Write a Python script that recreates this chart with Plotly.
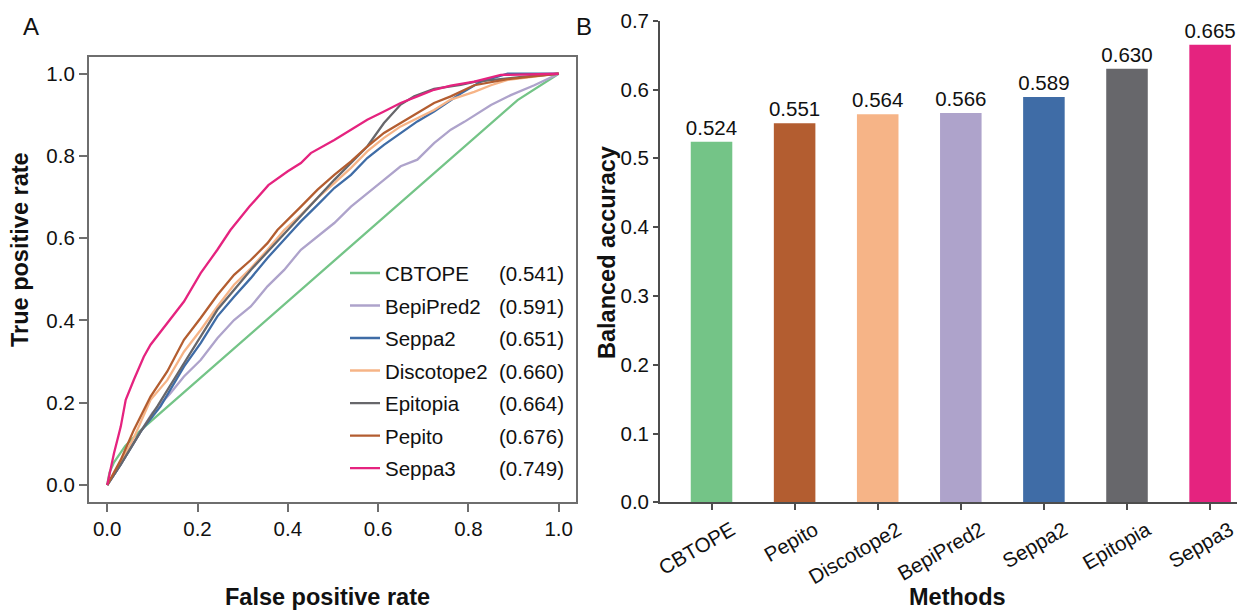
import plotly.graph_objects as go

# ---------------- data ----------------
methods_roc = ["CBTOPE", "BepiPred2", "Seppa2", "Discotope2", "Epitopia", "Pepito", "Seppa3"]
auc_values = [0.541, 0.591, 0.651, 0.660, 0.664, 0.676, 0.749]
roc_colors = ["#74c487", "#aea3cb", "#3f6ca6", "#f6b487", "#67676b", "#b35d30", "#e5237f"]

cbtope_fpr = [0, 0.005, 0.015, 0.04, 0.075, 0.909, 1.0]
cbtope_tpr = [0, 0.03, 0.055, 0.095, 0.134, 0.936, 1.0]

bepipred2_fpr = [0, 0.03, 0.074, 0.10, 0.14, 0.17, 0.207, 0.244, 0.281, 0.318, 0.355, 0.392, 0.429, 0.451,
                 0.466, 0.503, 0.540, 0.576, 0.613, 0.650, 0.687, 0.724, 0.761, 0.791, 0.85, 0.894, 0.946, 1.0]
bepipred2_tpr = [0, 0.05, 0.13, 0.175, 0.223, 0.264, 0.304, 0.357, 0.401, 0.434, 0.483, 0.523, 0.572, 0.592,
                 0.604, 0.637, 0.677, 0.710, 0.742, 0.775, 0.791, 0.831, 0.864, 0.883, 0.924, 0.948, 0.972, 1.0]

seppa2_fpr = [0, 0.03, 0.074, 0.118, 0.17, 0.207, 0.244, 0.281, 0.318, 0.355, 0.414, 0.429, 0.466, 0.503,
              0.540, 0.576, 0.613, 0.650, 0.687, 0.724, 0.761, 0.783, 0.828, 0.872, 0.887, 1.0]
seppa2_tpr = [0, 0.05, 0.13, 0.191, 0.288, 0.345, 0.410, 0.458, 0.503, 0.552, 0.623, 0.641, 0.681, 0.722,
              0.754, 0.795, 0.827, 0.856, 0.884, 0.908, 0.937, 0.952, 0.981, 0.995, 1.0, 1.0]

discotope2_fpr = [0, 0.03, 0.059, 0.096, 0.133, 0.17, 0.207, 0.244, 0.281, 0.318, 0.355, 0.392, 0.429, 0.466,
                  0.503, 0.540, 0.576, 0.613, 0.650, 0.687, 0.724, 0.761, 0.813, 0.850, 0.887, 0.946, 1.0]
discotope2_tpr = [0, 0.055, 0.115, 0.207, 0.255, 0.324, 0.377, 0.434, 0.487, 0.527, 0.572, 0.620, 0.657, 0.698,
                  0.734, 0.771, 0.811, 0.844, 0.872, 0.892, 0.912, 0.937, 0.956, 0.972, 0.985, 0.993, 1.0]

epitopia_fpr = [0, 0.03, 0.074, 0.111, 0.17, 0.244, 0.318, 0.399, 0.429, 0.466, 0.503, 0.540, 0.576, 0.613,
                0.650, 0.680, 0.724, 0.783, 0.813, 0.924, 1.0]
epitopia_tpr = [0, 0.05, 0.13, 0.191, 0.296, 0.426, 0.523, 0.620, 0.655, 0.700, 0.742, 0.783, 0.823, 0.880,
                0.925, 0.945, 0.963, 0.973, 0.980, 0.993, 1.0]

pepito_fpr = [0, 0.03, 0.059, 0.089, 0.096, 0.133, 0.17, 0.207, 0.244, 0.281, 0.318, 0.355, 0.377, 0.429,
              0.466, 0.503, 0.540, 0.576, 0.613, 0.650, 0.687, 0.724, 0.761, 0.813, 0.887, 1.0]
pepito_tpr = [0, 0.061, 0.134, 0.20, 0.215, 0.276, 0.353, 0.406, 0.462, 0.511, 0.547, 0.588, 0.620, 0.677,
              0.718, 0.754, 0.787, 0.823, 0.856, 0.880, 0.904, 0.929, 0.945, 0.972, 0.987, 1.0]

seppa3_fpr = [0, 0.015, 0.03, 0.041, 0.059, 0.081, 0.096, 0.133, 0.17, 0.207, 0.244, 0.273, 0.315, 0.357,
              0.40, 0.429, 0.451, 0.503, 0.547, 0.576, 0.613, 0.650, 0.687, 0.724, 0.761, 0.813, 0.872, 1.0]
seppa3_tpr = [0, 0.077, 0.142, 0.207, 0.256, 0.312, 0.341, 0.393, 0.446, 0.515, 0.572, 0.620, 0.677, 0.729,
              0.763, 0.783, 0.807, 0.839, 0.868, 0.888, 0.908, 0.929, 0.945, 0.961, 0.971, 0.981, 0.997, 1.0]

roc_fpr = [cbtope_fpr, bepipred2_fpr, seppa2_fpr, discotope2_fpr, epitopia_fpr, pepito_fpr, seppa3_fpr]
roc_tpr = [cbtope_tpr, bepipred2_tpr, seppa2_tpr, discotope2_tpr, epitopia_tpr, pepito_tpr, seppa3_tpr]

bar_methods = ["CBTOPE", "Pepito", "Discotope2", "BepiPred2", "Seppa2", "Epitopia", "Seppa3"]
bar_values = [0.524, 0.551, 0.564, 0.566, 0.589, 0.630, 0.665]
bar_colors = ["#74c487", "#b35d30", "#f6b487", "#aea3cb", "#3f6ca6", "#67676b", "#e5237f"]

roc_ticks = [0.0, 0.2, 0.4, 0.6, 0.8, 1.0]
bar_ticks = [0.0, 0.1, 0.2, 0.3, 0.4, 0.5, 0.6, 0.7]

# ---------------- layout helpers (page body has an 8px margin) ----------------
OFF = 8
W, H = 1245 - OFF, 613 - OFF


def px(xp):
    return (xp - OFF) / W


def py(yp):
    return 1 - (yp - OFF) / H


FONT = "Liberation Sans, Arial, sans-serif"
LEG_FS = 20.5
LEG_TOP = 253.2
ITEM_H = LEG_FS * 1.3 + 3
GAP = 2.85

fig = go.Figure()

for i, name in enumerate(methods_roc):
    fig.add_trace(go.Scatter(
        x=roc_fpr[i], y=roc_tpr[i], mode="lines", name=name,
        line=dict(color=roc_colors[i], width=2.3),
        legendgroup=name, xaxis="x", yaxis="y", hoverinfo="skip"))

fig.add_trace(go.Bar(
    x=bar_methods, y=bar_values, marker=dict(color=bar_colors, line=dict(width=0)),
    width=0.5, text=[f"{v:.3f}" for v in bar_values], textposition="outside",
    constraintext="none",
    textfont=dict(size=20.5, color="#111", family=FONT), cliponaxis=False,
    showlegend=False, xaxis="x2", yaxis="y2"))

annotations = []
for i, v in enumerate(auc_values):
    ypx = LEG_TOP + 5 + ITEM_H / 2 + i * (ITEM_H + GAP) + 0.7
    annotations.append(dict(text=f"({v:.3f})", x=px(497), y=py(ypx), xref="paper", yref="paper",
                            xanchor="left", yanchor="middle", showarrow=False,
                            font=dict(size=LEG_FS, color="#111", family=FONT)))


def title_ann(text, xp, yp, angle=0, size=23.5, bold=True):
    return dict(text=f"<b>{text}</b>" if bold else text, x=px(xp), y=py(yp),
                xref="paper", yref="paper", xanchor="center", yanchor="middle",
                showarrow=False, textangle=angle,
                font=dict(size=size, color="#111", family=FONT))


annotations += [
    title_ann("True positive rate", 20, 250, -90),
    title_ann("False positive rate", 327, 597),
    title_ann("Balanced accuracy", 607, 253, -90),
    title_ann("Methods", 957, 597),
    title_ann("A", 30.5, 26.5, size=24, bold=False),
    title_ann("B", 583.5, 26.5, size=24, bold=False),
]

box_color = "#6e6e6e"
ax_color = "#4d4d4d"
tickfont = dict(size=20.5, color="#111", family=FONT)

fig.update_layout(
    width=W, height=H,
    margin=dict(l=0, r=0, t=0, b=0, autoexpand=False),
    paper_bgcolor="white", plot_bgcolor="white",
    font=dict(family=FONT, color="#111"),
    showlegend=True,
    legend=dict(x=px(345), y=py(LEG_TOP), xanchor="left", yanchor="top",
                bgcolor="rgba(0,0,0,0)", borderwidth=0, tracegroupgap=GAP,
                font=dict(size=LEG_FS, color="#111", family=FONT)),
    xaxis=dict(domain=[px(88.8), px(576)], range=[-0.0408, 1.0384], anchor="y", automargin=False,
               tickvals=roc_ticks, ticktext=[f"{t:.1f}" for t in roc_ticks],
               ticks="outside", ticklen=8, tickwidth=1.5, tickcolor=box_color,
               showline=True, mirror=True, linecolor=box_color, linewidth=1.8,
               showgrid=False, zeroline=False, tickfont=tickfont),
    yaxis=dict(domain=[py(501.7), py(56.7)], range=[-0.0406, 1.0414], anchor="x", automargin=False,
               tickvals=roc_ticks, ticktext=[f"{t:.1f}" for t in roc_ticks],
               ticks="outside", ticklen=8, tickwidth=1.5, tickcolor=box_color,
               showline=True, mirror=True, linecolor=box_color, linewidth=1.8,
               showgrid=False, zeroline=False, tickfont=tickfont),
    xaxis2=dict(domain=[px(660), 1.0], range=[-0.62, 6.42], anchor="y2", automargin=False,
                type="category", categoryorder="array", categoryarray=bar_methods,
                ticks="outside", ticklen=6, tickwidth=1.5, tickcolor=ax_color,
                showline=True, linecolor=ax_color, linewidth=1.8, tickangle=-30,
                ticklabelshift=20,
                showgrid=False, zeroline=False, tickfont=tickfont),
    yaxis2=dict(domain=[py(502.3), py(20.7)], range=[0, 0.7], anchor="x2", automargin=False,
                tickvals=bar_ticks, ticktext=[f"{t:.1f}" for t in bar_ticks],
                ticks="outside", ticklen=5, tickwidth=1.5, tickcolor=ax_color,
                showline=True, linecolor=ax_color, linewidth=1.8,
                showgrid=False, zeroline=False, tickfont=tickfont),
    annotations=annotations,
)

fig.write_html("out.html")
